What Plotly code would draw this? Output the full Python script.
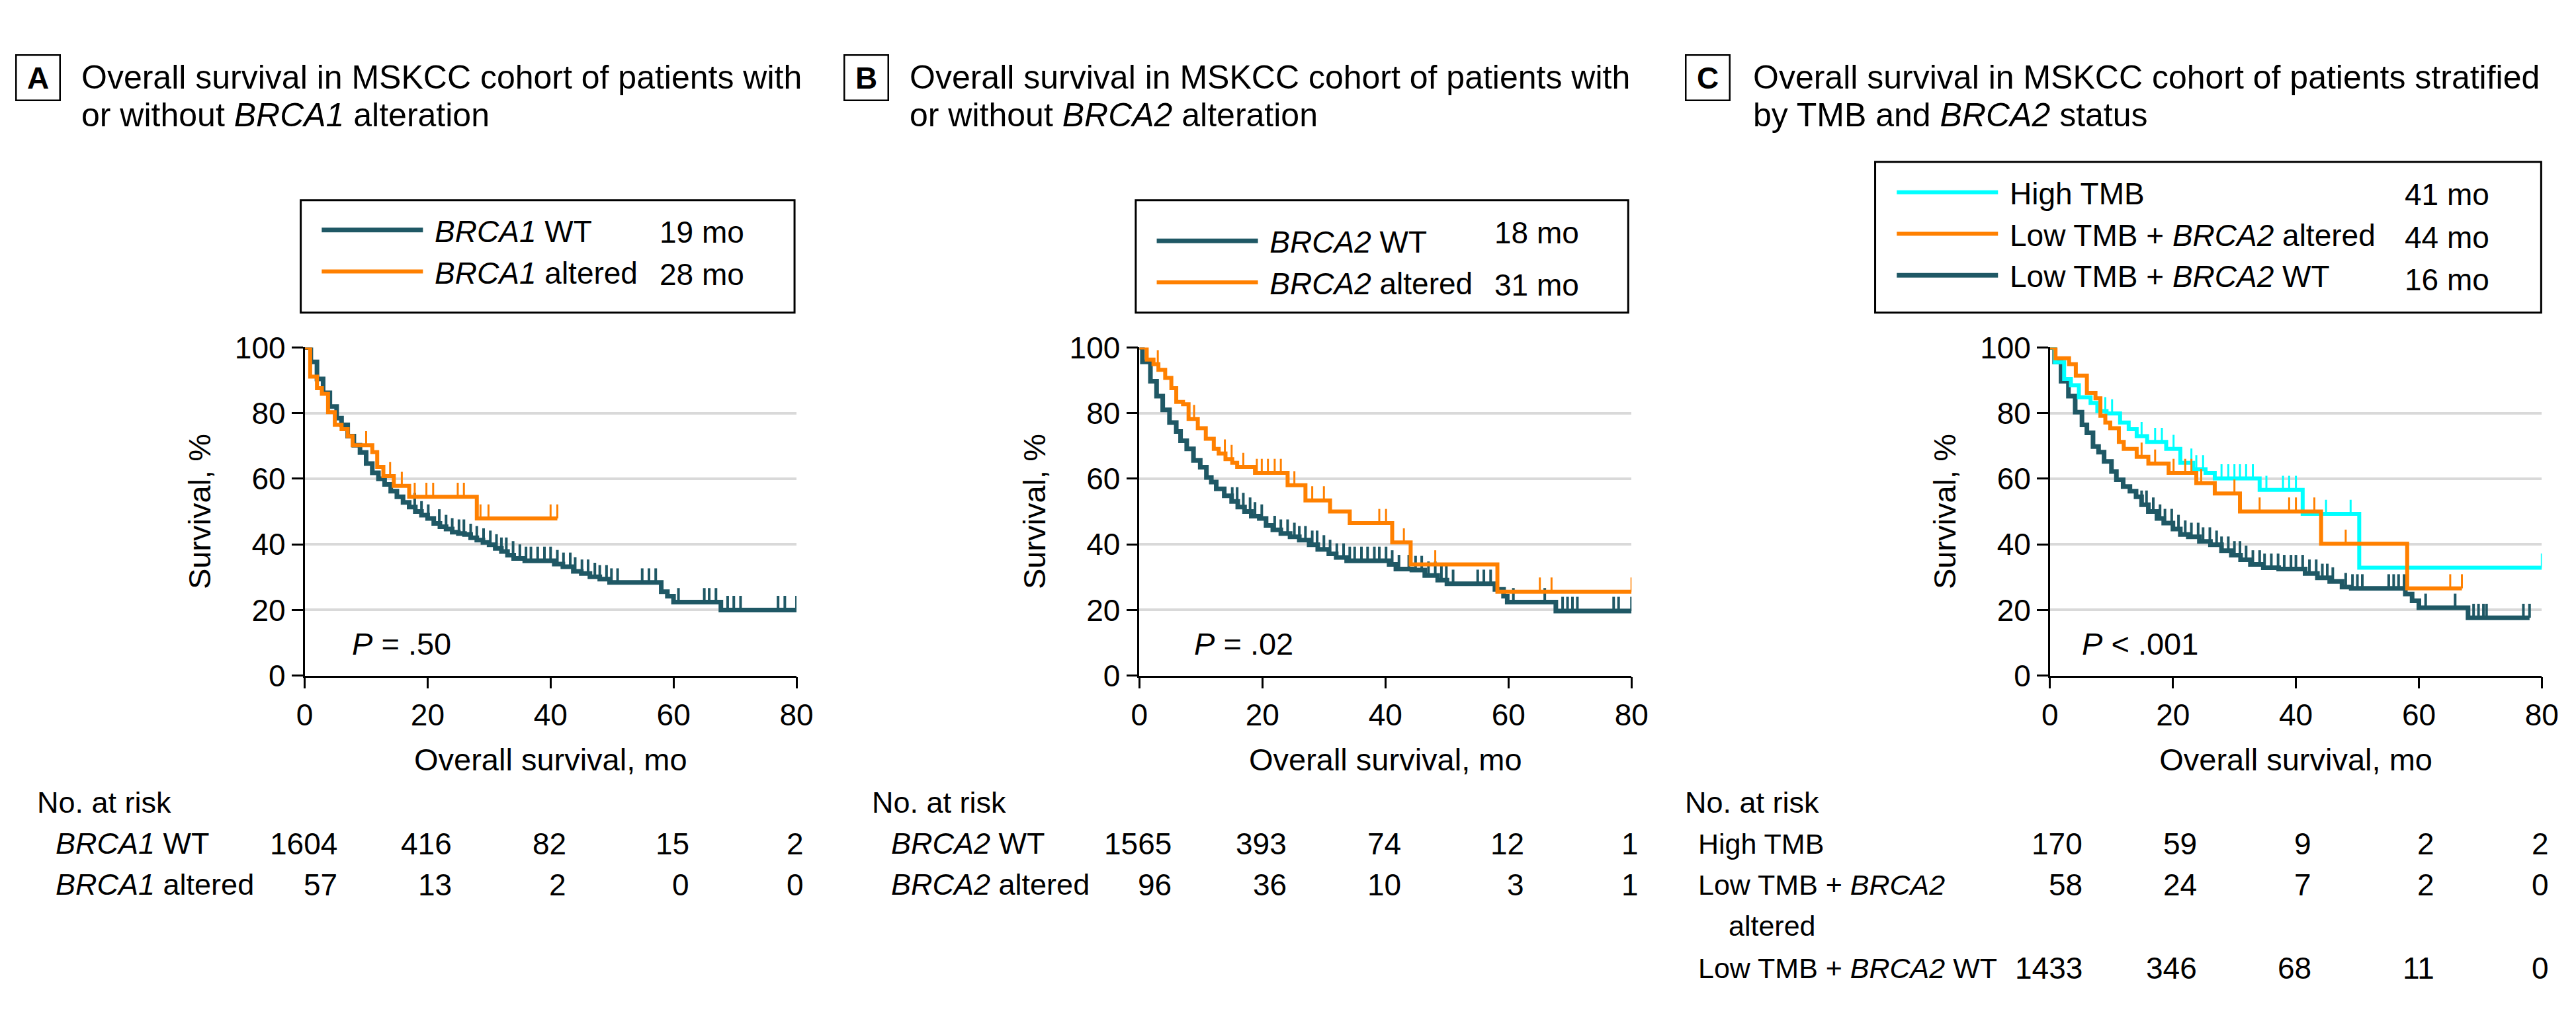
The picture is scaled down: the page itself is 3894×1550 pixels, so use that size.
import numpy as np
import plotly.graph_objects as go

W, H = 3894, 1550
FONT = "Liberation Sans, Arial, Helvetica, sans-serif"
TEAL = "#1f5865"
ORANGE = "#ff8000"
CYAN = "#00ffff"

MONTHS = [0, 20, 40, 60, 80]
Y_TICKS = [0, 20, 40, 60, 80, 100]

# ---------------- Panel A: BRCA1 ----------------
a_wt_t = [0, 1.0, 2.0, 3.0, 4.1, 5.2, 6.0, 7.0, 8.0, 9.0, 10.0, 11.0, 12.0, 13.0, 14.0, 15.0,
          16.0, 17.0, 18.0, 19.0, 20.0, 21.0, 22.0, 23.0, 24.0, 25.0, 26.0, 27.0, 28.0, 29.0,
          30.0, 31.0, 32.0, 33.0, 34.0, 35.8, 40.6, 42.0, 43.7, 45.0, 46.4, 48.0, 49.6, 58.0,
          59.0, 60.0, 67.7]
a_wt_s = [100, 95.6, 90.4, 86.2, 82.0, 78.5, 76.4, 73.0, 70.2, 68.0, 64.6, 61.8, 60.0, 58.3,
          56.2, 54.5, 52.8, 51.4, 50.0, 48.9, 47.9, 46.4, 45.4, 44.7, 43.7, 43.3, 43.0, 42.0,
          41.3, 40.6, 39.9, 38.8, 37.8, 36.7, 35.7, 35.0, 34.0, 33.2, 31.8, 31.1, 30.1, 29.4,
          28.4, 25.6, 24.2, 22.4, 20.0]
a_wt_end = 80
a_wt_cens = [17.9, 19.0, 20.1, 21.9, 23.0, 24.0, 25.1, 25.9, 27.0, 28.0, 29.1, 30.2, 31.2, 32.0,
             32.8, 33.9, 35.0, 36.0, 36.8, 37.9, 39.0, 40.0, 41.1, 42.1, 43.2, 44.0, 45.1, 46.1,
             47.2, 48.0, 49.1, 49.9, 50.9, 54.9, 56.0, 57.1, 60.8, 65.0, 65.8, 66.9, 68.8, 69.8,
             70.9, 77.0, 78.1, 80.0]

a_alt_t = [0, 0.9, 2.0, 2.8, 3.8, 4.9, 6.0, 7.0, 7.8, 11.0, 11.8, 12.8, 14.5, 17.0, 28.0]
a_alt_s = [100, 91.1, 87.6, 85.9, 80.3, 76.4, 75.1, 73.0, 70.2, 68.1, 63.6, 60.8, 57.8, 54.5, 47.9]
a_alt_end = 41.1
a_alt_cens = [10.0, 13.9, 15.8, 17.9, 19.8, 20.9, 24.9, 25.9, 28.6, 29.9, 40.0, 41.1]

# ---------------- Panel B: BRCA2 ----------------
b_wt_t = [0, 0.5, 1.8, 2.8, 3.8, 4.9, 6.0, 6.7, 7.7, 8.8, 9.9, 10.9, 11.7, 12.5, 13.8, 15.0,
          16.0, 17.1, 18.2, 19.5, 20.6, 21.7, 23.0, 24.5, 26.0, 27.6, 29.0, 30.8, 32.0, 33.7,
          40.6, 41.7, 44.3, 46.4, 48.5, 50.0, 57.8, 59.2, 59.8, 67.7]
b_wt_s = [100, 95.6, 89.7, 85.2, 81.0, 77.1, 74.4, 71.6, 69.1, 65.6, 63.5, 60.4, 59.0, 56.9,
          54.8, 53.1, 51.4, 50.0, 48.6, 47.9, 45.8, 44.4, 43.3, 42.3, 41.3, 39.9, 38.5, 37.1,
          36.0, 35.0, 33.9, 32.5, 32.2, 30.5, 29.1, 28.0, 26.3, 24.2, 22.4, 19.7]
b_wt_end = 80
b_wt_cens = [15.1, 15.9, 16.9, 18.0, 18.8, 19.9, 22.0, 23.0, 24.1, 25.2, 26.0, 27.0, 28.1, 28.9,
             30.0, 31.0, 32.1, 33.2, 34.2, 35.0, 36.1, 37.1, 38.2, 39.0, 40.1, 41.1, 42.2, 43.8,
             44.9, 45.9, 47.0, 48.1, 49.1, 49.9, 51.0, 55.0, 56.0, 57.1, 60.8, 65.9, 68.8, 69.6,
             70.4, 71.2, 77.1, 77.9, 80.0]

b_alt_t = [0, 1.2, 2.3, 3.1, 4.2, 5.2, 6.0, 7.1, 8.0, 9.5, 10.8, 12.1, 12.9, 14.0, 15.1, 15.9,
           18.8, 24.1, 27.0, 31.0, 34.2, 41.1, 44.1, 58.2]
b_alt_s = [100, 96.3, 94.9, 93.2, 90.7, 87.6, 83.4, 82.7, 78.2, 75.4, 72.2, 69.1, 67.7, 66.0,
           64.9, 63.6, 61.8, 58.0, 53.4, 50.0, 46.5, 40.6, 33.9, 25.6]
b_alt_end = 80
b_alt_cens = [3.0, 8.9, 13.9, 15.0, 16.9, 19.1, 19.9, 20.9, 22.0, 23.0, 25.2, 28.1, 30.0, 39.0,
              40.1, 43.0, 48.1, 65.1, 67.0, 80.0]

# ---------------- Panel C: TMB and BRCA2 ----------------
c_wt_t = [0, 0.75, 1.8, 3.0, 4.1, 5.2, 6.0, 7.0, 7.9, 8.8, 10.0, 10.8, 11.9, 13.0, 14.0, 14.9,
          16.0, 17.4, 18.5, 20.0, 21.2, 22.5, 24.3, 26.1, 27.9, 29.5, 31.0, 32.6, 34.7, 37.2,
          41.5, 43.5, 45.5, 47.5, 49.0, 57.8, 58.9, 60.0, 68.0]
c_wt_s = [100, 95.6, 89.7, 85.2, 80.3, 76.4, 74.0, 69.8, 68.1, 65.3, 62.2, 59.7, 57.6, 56.2,
          54.5, 52.1, 50.0, 47.9, 46.5, 44.7, 43.0, 42.3, 40.9, 39.9, 38.1, 36.7, 35.3, 33.9,
          32.9, 32.5, 31.1, 29.8, 28.7, 27.0, 26.6, 24.9, 22.8, 20.7, 17.6]
c_wt_end = 78
c_wt_cens = [14.9, 15.7, 16.8, 17.9, 18.7, 19.8, 20.9, 22.0, 23.0, 24.1, 24.9, 26.0, 27.1, 27.9,
             29.0, 30.0, 30.9, 31.9, 33.0, 34.1, 34.9, 36.0, 37.1, 38.1, 39.2, 40.0, 41.1, 42.2,
             43.3, 44.3, 45.1, 46.0, 48.1, 49.2, 50.0, 50.8, 55.1, 55.9, 56.7, 57.6, 61.1, 65.9,
             68.9, 69.7, 70.5, 71.0, 77.0, 78.0]

c_hi_t = [0, 0.8, 2.3, 3.4, 4.7, 6.6, 7.7, 9.2, 11.4, 12.8, 14.1, 15.8, 18.9, 21.2, 23.3, 25.3,
          26.8, 34.1, 41.1, 50.3]
c_hi_s = [100, 95.5, 90.4, 88.5, 84.8, 83.1, 80.6, 79.9, 77.1, 75.1, 73.0, 71.2, 69.1, 64.9,
          62.9, 61.8, 60.1, 56.6, 49.3, 32.9]
c_hi_end = 80
c_hi_cens = [9.0, 10.1, 14.9, 17.1, 18.2, 20.1, 23.0, 23.8, 24.9, 27.9, 29.0, 30.0, 30.9, 31.9,
             33.0, 35.2, 37.9, 38.9, 40.0, 44.9, 48.9, 80.0]

c_alt_t = [0, 0.9, 3.1, 4.2, 6.0, 7.4, 8.2, 9.0, 9.8, 11.2, 12.0, 14.1, 16.0, 19.3, 23.8, 26.8,
           30.9, 44.1, 58.1]
c_alt_s = [100, 96.7, 94.9, 91.4, 86.2, 84.5, 79.2, 77.1, 75.4, 71.2, 69.1, 66.7, 64.6, 61.8,
           58.7, 55.5, 50.0, 40.2, 26.6]
c_alt_end = 67.0
c_alt_cens = [14.9, 17.1, 20.1, 22.0, 23.0, 24.6, 30.0, 34.1, 38.9, 40.0, 43.0, 48.1, 65.1, 67.0]

# ---------------- Numbers at risk ----------------
risk_a_wt = [1604, 416, 82, 15, 2]
risk_a_alt = [57, 13, 2, 0, 0]
risk_b_wt = [1565, 393, 74, 12, 1]
risk_b_alt = [96, 36, 10, 3, 1]
risk_c_hi = [170, 59, 9, 2, 2]
risk_c_alt = [58, 24, 7, 2, 0]
risk_c_wt = [1433, 346, 68, 11, 0]

medians_a = ["19 mo", "28 mo"]
medians_b = ["18 mo", "31 mo"]
medians_c = ["41 mo", "44 mo", "16 mo"]
p_values = ["<i>P</i> = .50", "<i>P</i> = .02", "<i>P</i> < .001"]

# ---------------- helpers ----------------
def px(x):
    return x / W


def py(y):
    return 1 - y / H


TICK_H = 4.3  # height of censor ticks in survival units


def surv_at(times, surv, t):
    i = int(np.searchsorted(np.asarray(times), t, side="right")) - 1
    return surv[max(i, 0)]


fig = go.Figure()


def add_curve(times, surv, end, cens, color, width, cwidth, name, k, legend, rank):
    xa = "x" if k == 1 else f"x{k}"
    ya = "y" if k == 1 else f"y{k}"
    fig.add_trace(go.Scatter(
        x=list(times) + [end], y=list(surv) + [surv[-1]], mode="lines",
        line=dict(color=color, width=width, shape="hv"), name="&nbsp;" + name,
        legend=legend, legendrank=rank, xaxis=xa, yaxis=ya,
        cliponaxis=False, hoverinfo="skip"))
    cx, cy = [], []
    for t in cens:
        s = surv_at(times, surv, t)
        cx += [t, t, None]
        cy += [s, s + TICK_H, None]
    fig.add_trace(go.Scatter(
        x=cx, y=cy, mode="lines", line=dict(color=color, width=cwidth),
        showlegend=False, xaxis=xa, yaxis=ya, cliponaxis=False, hoverinfo="skip"))


# Panel A
add_curve(a_wt_t, a_wt_s, a_wt_end, a_wt_cens, TEAL, 7, 4, "<i>BRCA1</i> WT", 1, "legend", 1)
add_curve(a_alt_t, a_alt_s, a_alt_end, a_alt_cens, ORANGE, 6, 3, "<i>BRCA1</i> altered", 1, "legend", 2)
# Panel B
add_curve(b_wt_t, b_wt_s, b_wt_end, b_wt_cens, TEAL, 7, 4, "<i>BRCA2</i> WT", 2, "legend2", 1)
add_curve(b_alt_t, b_alt_s, b_alt_end, b_alt_cens, ORANGE, 6, 3, "<i>BRCA2</i> altered", 2, "legend2", 2)
# Panel C
add_curve(c_wt_t, c_wt_s, c_wt_end, c_wt_cens, TEAL, 7, 4, "Low TMB + <i>BRCA2</i> WT", 3, "legend3", 3)
add_curve(c_hi_t, c_hi_s, c_hi_end, c_hi_cens, CYAN, 6, 3, "High TMB", 3, "legend3", 1)
add_curve(c_alt_t, c_alt_s, c_alt_end, c_alt_cens, ORANGE, 6, 3, "Low TMB + <i>BRCA2</i> altered", 3, "legend3", 2)

# ---------------- layout ----------------
x_doms = [(444, 1195), (1718.5, 2470), (3109, 3860)]
Y_TOP, Y_BOT = 508.5, 1022
TICKFONT = dict(size=46, color="black", family=FONT)

layout = dict(
    width=W, height=H, margin=dict(l=0, r=0, t=0, b=0),
    paper_bgcolor="white", plot_bgcolor="white",
    font=dict(family=FONT, color="black", size=46),
    showlegend=True, annotations=[], shapes=[],
)
for k, (x0, x1) in enumerate(x_doms, start=1):
    sfx = "" if k == 1 else str(k)
    layout["xaxis" + sfx] = dict(
        domain=[px(x0), px(x1)], range=[0, 80], tickvals=MONTHS, ticks="outside",
        ticklen=17, tickwidth=2.5, tickcolor="black", showline=True, linecolor="black",
        linewidth=2.5, showgrid=False, zeroline=False, tickfont=TICKFONT,
        anchor="y" + sfx, fixedrange=True,
        title=dict(text="Overall survival, mo", font=dict(size=47, family=FONT), standoff=27))
    layout["yaxis" + sfx] = dict(
        domain=[py(Y_BOT), py(Y_TOP)], range=[0, 100], tickvals=Y_TICKS, ticks="outside",
        ticklen=17, tickwidth=2.5, tickcolor="black", showline=True, linecolor="black",
        linewidth=2.5, showgrid=True, gridcolor="#d9d9d9", gridwidth=4, zeroline=False,
        tickfont=TICKFONT, anchor="x" + sfx, fixedrange=True,
        title=dict(text="Survival, %", font=dict(size=47, family=FONT), standoff=22))

LEG = dict(xanchor="left", yanchor="top", bgcolor="rgba(0,0,0,0)", borderwidth=0,
           font=dict(size=46, family=FONT, color="black"), itemwidth=153,
           traceorder="normal", tracegroupgap=0)
layout["legend"] = dict(LEG, x=px(465), y=py(287))
layout["legend2"] = dict(LEG, x=px(1740), y=py(304))
layout["legend3"] = dict(LEG, x=px(2870), y=py(228))

# legend frames
for (x0, y0, x1, y1) in [(438, 278, 1192, 454), (1713, 278, 2465, 454), (2842, 218, 3859, 454)]:
    layout["shapes"].append(dict(type="rect", xref="paper", yref="paper",
                                 x0=px(x0), x1=px(x1), y0=py(y1), y1=py(y0),
                                 line=dict(color="black", width=3)))

ann = layout["annotations"]


def text(x, y, s, size=46, anchor="left", **kw):
    ann.append(dict(x=px(x), y=py(y), xref="paper", yref="paper", text=s, showarrow=False,
                    xanchor=anchor, yanchor="middle",
                    font=dict(size=size, family=FONT, color="black"), **kw))


# panel letters and titles
for letter, cx in [("A", 37), ("B", 1301.5), ("C", 2586.5)]:
    ann.append(dict(x=px(cx), y=py(86.5), xref="paper", yref="paper", text=f"<b>{letter}</b>",
                    showarrow=False, xanchor="center", yanchor="middle", width=64, height=66,
                    bordercolor="black", borderwidth=2.5, borderpad=0,
                    font=dict(size=46, family=FONT, color="black")))
titles = [
    (101, "Overall survival in MSKCC cohort of patients with", "or without <i>BRCA1</i> alteration"),
    (1366, "Overall survival in MSKCC cohort of patients with", "or without <i>BRCA2</i> alteration"),
    (2654, "Overall survival in MSKCC cohort of patients stratified", "by TMB and <i>BRCA2</i> status"),
]
for x, l1, l2 in titles:
    text(x, 85.5, l1, size=50)
    text(x, 145, l2, size=50)

# medians in legends
for s, y in zip(medians_a, [328, 394]):
    text(984, y, s)
for s, y in zip(medians_b, [329, 411]):
    text(2259, y, s)
for s, y in zip(medians_c, [269, 336, 403]):
    text(3649, y, s)

# P values
for k, (pv, xm) in enumerate(zip(p_values, [7.5, 8.7, 5.0]), start=1):
    sfx = "" if k == 1 else str(k)
    ann.append(dict(x=xm, y=9.7, xref="x" + sfx, yref="y" + sfx, text=pv, showarrow=False,
                    xanchor="left", yanchor="middle",
                    font=dict(size=47, family=FONT, color="black")))

# numbers at risk
DIGIT_W = 0.556 * 46


def risk_rows(k, rows, ys):
    sfx = "" if k == 1 else str(k)
    for ci, m in enumerate(MONTHS):
        ndig = max(len(str(r[ci])) for r in rows)
        for r, y in zip(rows, ys):
            ann.append(dict(x=m, y=py(y), xref="x" + sfx, yref="paper", text=str(r[ci]),
                            showarrow=False, xanchor="right", yanchor="middle",
                            xshift=ndig * DIGIT_W / 2,
                            font=dict(size=46, family=FONT, color="black")))


TS = 45
text(33, 1220, "No. at risk", size=TS)
text(62, 1285, "<i>BRCA1</i> WT", size=TS)
text(62, 1349, "<i>BRCA1</i> altered", size=TS)
risk_rows(1, [risk_a_wt, risk_a_alt], [1285, 1349])

text(1308, 1220, "No. at risk", size=TS)
text(1337, 1285, "<i>BRCA2</i> WT", size=TS)
text(1337, 1349, "<i>BRCA2</i> altered", size=TS)
risk_rows(2, [risk_b_wt, risk_b_alt], [1285, 1349])

TC = 43
text(2550, 1220, "No. at risk", size=TS)
text(2570, 1285, "High TMB", size=TC)
text(2570, 1349, "Low TMB + <i>BRCA2</i>", size=TC)
text(2616, 1413, "altered", size=TC)
text(2570, 1480, "Low TMB + <i>BRCA2</i> WT", size=TC)
risk_rows(3, [risk_c_hi, risk_c_alt, risk_c_wt], [1285, 1349, 1480])

fig.update_layout(**layout)
fig.write_html("out.html")
